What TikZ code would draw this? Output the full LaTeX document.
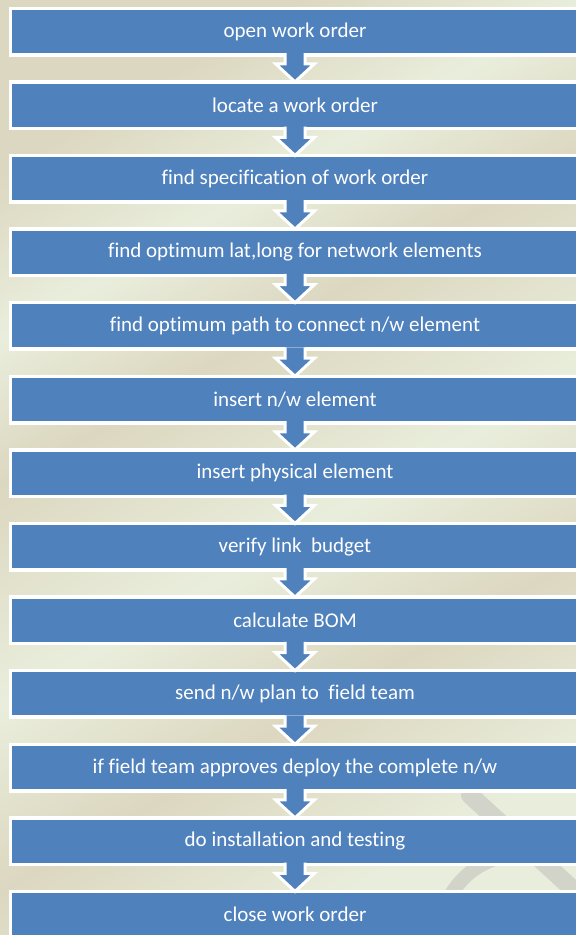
\documentclass[tikz,border=0pt]{standalone}
\usepackage{fontspec}
\setmainfont{Carlito}[Ligatures=NoCommon]
\usetikzlibrary{positioning}
\definecolor{stepblue}{HTML}{4F81BD}
\definecolor{bggreen}{HTML}{E9EEDC}
\definecolor{bgbeige}{HTML}{DCD7C0}
\definecolor{markgray}{HTML}{D2D3C9}
\pgfdeclarehorizontalshading{bgstreak}{100bp}{color(0bp)=(bggreen); color(25bp)=(bggreen);
  color(36bp)=(bgbeige); color(46bp)=(bggreen); color(58bp)=(bgbeige); color(66bp)=(bggreen);
  color(75bp)=(bgbeige); color(100bp)=(bgbeige)}
\tikzset{
  stepbox/.style = {
    rectangle,
    fill=stepblue,
    draw=white,
    line width=3.5pt,
    outer sep=0pt,
    text=white,
    font=\fontsize{21}{25}\selectfont,
    minimum width=569.5pt,
    minimum height=46.5pt
  },
  blockarrow/.style = {
    fill=stepblue,
    draw=white,
    line width=3pt,
    line join=miter
  }
}
% down arrow between two steps, open at the top so it runs into the upper box
\newcommand{\downblock}[2]{%
  \filldraw[blockarrow] ([xshift=-10pt,yshift=1.75pt]#1.south) -- ++(0,-10.75pt) -- ++(-9.5pt,0)
    -- (#2.north) -- ([xshift=19.5pt,yshift=-9pt]#1.south) -- ++(-9.5pt,0) -- ++(0,10.75pt);
}

\begin{document}
\begin{tikzpicture}[node distance=27.1pt]
    \useasboundingbox (0,0) rectangle (576pt,-935pt);
    \clip (0,0) rectangle (576pt,-935pt);
    \shade[shading=bgstreak, shading angle=120] (0,0) rectangle (576pt,-935pt);
    \draw[markgray, line width=18pt, line cap=round] (470pt,-795pt) -- (590pt,-905pt);
    \draw[markgray, line width=14pt] (440pt,-935pt) arc[start angle=180, end angle=60, radius=80pt];
    \node[stepbox] at (295pt,-31.5pt) (open) {open work order};
    \node[stepbox, below=of open] (locate) {locate a work order};
    \node[stepbox, below=of locate] (spec) {find specification of work order};
    \node[stepbox, below=of spec] (latlong) {find optimum lat,long for network elements};
    \node[stepbox, below=of latlong] (path) {find optimum path to connect n/w element};
    \node[stepbox, below=of path] (insertnw) {insert n/w element};
    \node[stepbox, below=of insertnw] (insertphys) {insert physical element};
    \node[stepbox, below=of insertphys] (budget) {verify link\ \ budget};
    \node[stepbox, below=of budget] (bom) {calculate BOM};
    \node[stepbox, below=of bom] (sendplan) {send n/w plan to\ \ field team};
    \node[stepbox, below=of sendplan] (approve) {if field team approves deploy the complete n/w};
    \node[stepbox, below=of approve] (install) {do installation and testing};
    \node[stepbox, below=of install] (close) {close work order};
    \downblock{open}{locate}
    \downblock{locate}{spec}
    \downblock{spec}{latlong}
    \downblock{latlong}{path}
    \downblock{path}{insertnw}
    \downblock{insertnw}{insertphys}
    \downblock{insertphys}{budget}
    \downblock{budget}{bom}
    \downblock{bom}{sendplan}
    \downblock{sendplan}{approve}
    \downblock{approve}{install}
    \downblock{install}{close}
\end{tikzpicture}
\end{document}
